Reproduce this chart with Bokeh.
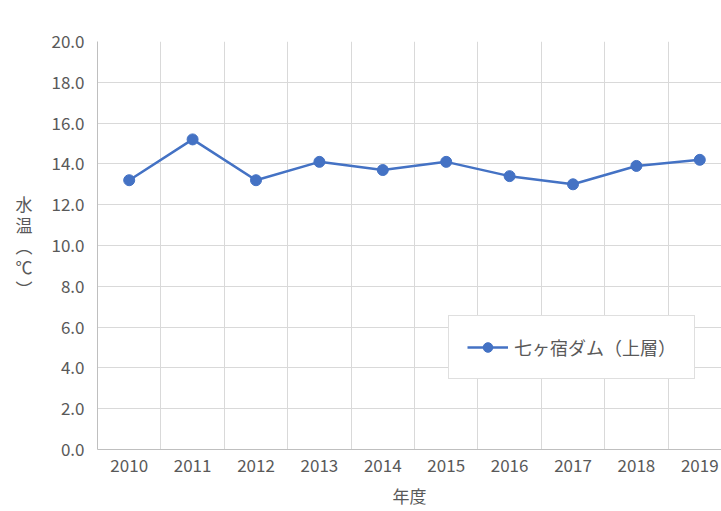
from bokeh.plotting import figure
from bokeh.models import Range1d, FixedTicker, ColumnDataSource, Legend, LegendItem
from bokeh.embed import file_html
from bokeh.resources import INLINE

years = [2010, 2011, 2012, 2013, 2014, 2015, 2016, 2017, 2018, 2019]
temps = [13.2, 15.2, 13.2, 14.1, 13.7, 14.1, 13.4, 13.0, 13.9, 14.2]
series_name = "七ヶ宿ダム（上層）"
y_ticks = [0, 2, 4, 6, 8, 10, 12, 14, 16, 18, 20]
x_title = "年度"
y_title = "水\n温\n︵\n℃\n︶"

FONT = "Noto Sans CJK JP"
TXT = "#595959"
GRID = "#d9d9d9"
BLUE = "#4472C4"

p = figure(width=721, height=511, output_backend="svg", toolbar_location=None,
           x_range=Range1d(years[0] - 0.5, years[0] - 0.5 + 624 / 63.4),
           y_range=Range1d(0, 20),
           min_border_left=97, min_border_right=0, min_border_top=41, min_border_bottom=62)
p.outline_line_color = None
p.background_fill_color = "white"
p.border_fill_color = "white"

src = ColumnDataSource(dict(x=years, y=temps))
r1 = p.line("x", "y", source=src, line_color=BLUE, line_width=2.5)
r2 = p.scatter("x", "y", source=src, size=11, fill_color=BLUE, line_color=BLUE)

# grids
p.xgrid.ticker = FixedTicker(ticks=[y + 0.5 for y in years])
p.xgrid.grid_line_color = GRID
p.ygrid.ticker = FixedTicker(ticks=y_ticks)
p.ygrid.grid_line_color = GRID

# axes
p.xaxis.ticker = FixedTicker(ticks=years)
p.xaxis.major_label_overrides = {y: str(y) for y in years}
p.yaxis.ticker = FixedTicker(ticks=y_ticks)
p.yaxis.major_label_overrides = {v: f"{v:.1f}" for v in y_ticks}
for ax in (p.xaxis[0], p.yaxis[0]):
    ax.axis_line_color = "#bfbfbf"
    ax.major_tick_line_color = None
    ax.minor_tick_line_color = None
    ax.major_tick_out = 0
    ax.minor_tick_out = 0
    ax.major_label_text_font = FONT
    ax.major_label_text_font_size = "17px"
    ax.major_label_text_color = TXT
    ax.axis_label_text_font = FONT
    ax.axis_label_text_font_size = "17px"
    ax.axis_label_text_color = TXT
    ax.axis_label_text_font_style = "normal"

p.xaxis.axis_label = x_title
p.xaxis.major_label_standoff = 9
p.xaxis.axis_label_standoff = 8
p.yaxis.axis_label = y_title
p.yaxis.axis_label_orientation = "horizontal"
p.yaxis.major_label_standoff = 13
p.yaxis.axis_label_standoff = 16
p.yaxis.axis_label_text_line_height = 0.85

legend = Legend(items=[LegendItem(label=series_name, renderers=[r1, r2])],
                location=(351, 70))
legend.label_text_font = FONT
legend.label_text_font_size = "18px"
legend.label_text_color = TXT
legend.border_line_color = "#bfbfbf"
legend.border_line_width = 1
legend.background_fill_color = "white"
legend.background_fill_alpha = 1
legend.padding = 18
legend.glyph_width = 41
legend.glyph_height = 24
legend.label_standoff = 6
legend.margin = 0
p.add_layout(legend, "center")

open("out.html", "w").write(file_html(p, INLINE))
